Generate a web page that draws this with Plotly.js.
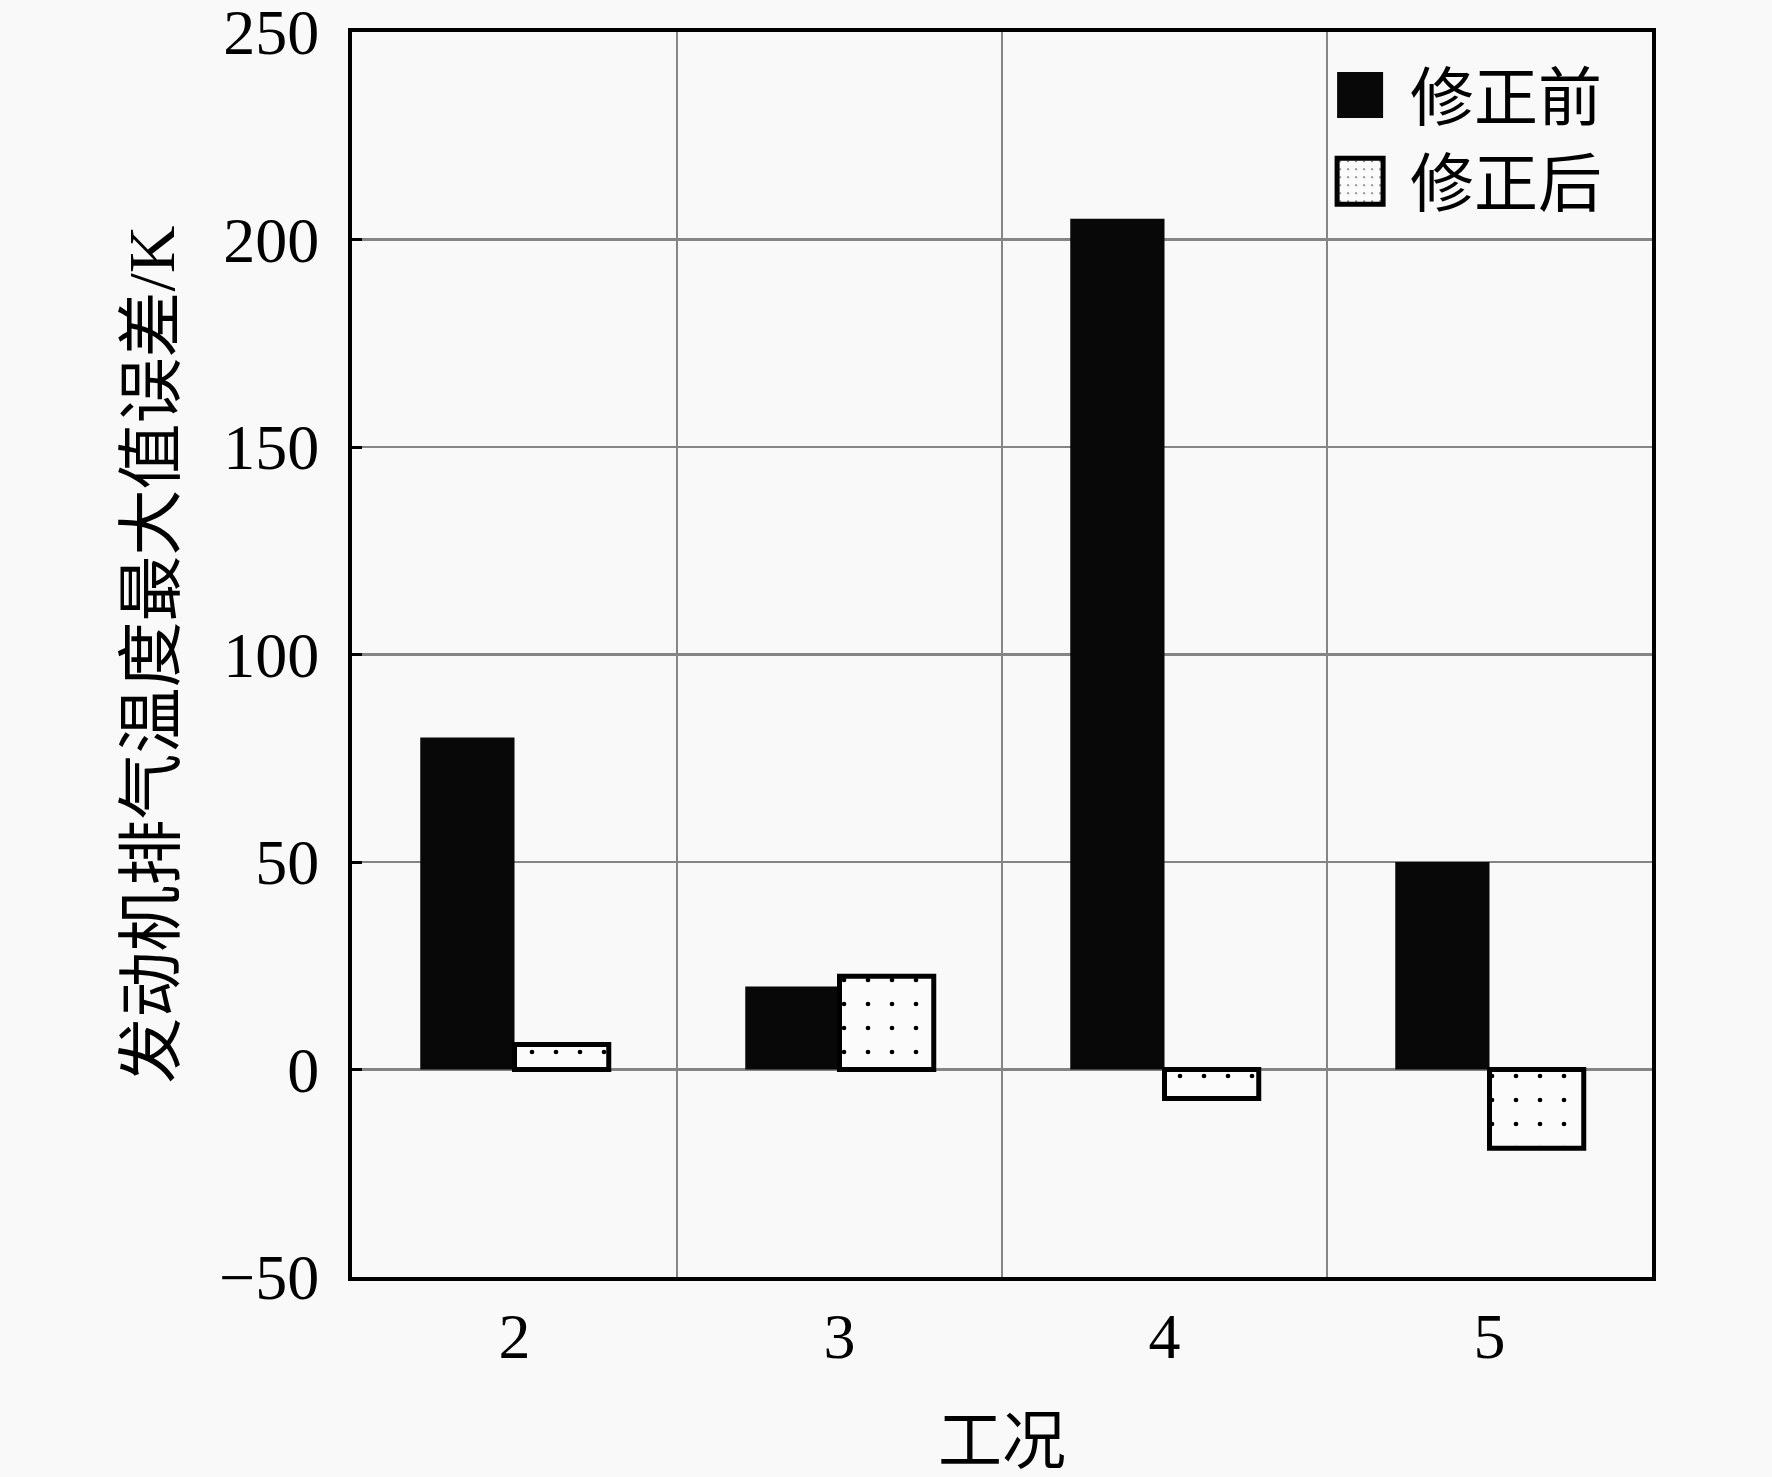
<!DOCTYPE html>
<html>
<head>
<meta charset="utf-8">
<script src="https://cdn.plot.ly/plotly-3.0.1.min.js"></script>
<style>
  body { margin: 0; background: #f9f9f9; }
  #divPlot { width: 1772px; height: 1477px; }
</style>
</head>
<body>
<div id="divPlot"></div>
<script>
// 工况 (operating cases) and max exhaust temperature error, K
var cases = [2, 3, 4, 5];
var beforeCorr = [80, 20, 205, 50];   // 修正前
var afterCorr = [6, 22.5, -7, -19];   // 修正后

var yTicks = [-50, 0, 50, 100, 150, 200, 250];

var serif = '"Liberation Serif", "Noto Sans CJK SC", serif';

var trace1 = {
  x : cases,
  y : beforeCorr,
  type : 'bar',
  name : '修正前',
  marker : {color : '#080808', line : {width : 0}},
  hoverinfo : 'skip'
};

var trace2 = {
  x : cases,
  y : afterCorr,
  type : 'bar',
  name : '修正后',
  marker : {
    color : '#fbfbfb',
    line : {color : '#000', width : 5},
    pattern : {shape : '.', fgcolor : '#000', bgcolor : '#fbfbfb',
               size : 24, solidity : 0.03, fillmode : 'replace'}
  },
  hoverinfo : 'skip'
};

var layout = {
  width : 1772,
  height : 1477,
  margin : {l : 352, r : 120, t : 32, b : 200},
  paper_bgcolor : '#f9f9f9',
  plot_bgcolor : '#f9f9f9',
  barmode : 'group',
  bargap : 0.42,
  bargroupgap : 0,
  font : {family : serif, size : 64, color : '#000'},
  showlegend : true,
  legend : {
    x : 0.737, y : 0.988, xanchor : 'left', yanchor : 'top',
    bgcolor : 'rgba(0,0,0,0)', borderwidth : 0,
    itemwidth : 90,
    font : {family : serif, size : 64}
  },
  xaxis : {
    range : [1.5, 5.5],
    tickmode : 'array',
    tickvals : cases,
    ticktext : cases.map(String),
    ticks : '',
    showgrid : false,
    zeroline : false,
    showline : true, mirror : true, linecolor : '#000', linewidth : 4,
    ticklabelstandoff : 0,
    minor : {tickmode : 'array', tickvals : [2.5, 3.5, 4.5], showgrid : true,
             gridcolor : '#858585', gridwidth : 2.5, ticks : ''},
    title : {text : '工况', standoff : 58, font : {family : serif, size : 64}}
  },
  yaxis : {
    range : [-50, 250],
    tickmode : 'array',
    tickvals : yTicks,
    ticktext : yTicks.map(function(v) { return v < 0 ? '\u2212' + (-v) : String(v); }),
    ticklabeloverflow : 'allow',
    ticks : 'inside', ticklen : 10, tickwidth : 3, tickcolor : '#000',
    showgrid : true, gridcolor : '#858585', gridwidth : 2.5,
    zeroline : false,
    showline : true, mirror : true, linecolor : '#000', linewidth : 4,
    ticklabelstandoff : 16,
    title : {text : '发动机排气温度最大值误差/K', standoff : 24,
             font : {family : serif, size : 66}}
  }
};

Plotly.newPlot('divPlot', [trace1, trace2], layout, {displayModeBar : false, staticPlot : true})
  .then(function(gd) {
    // enlarge the legend swatches to match the big text
    gd.querySelectorAll('.legend .legendpoints path').forEach(function(p, i) {
      p.setAttribute('d', 'M23,23H-23V-23H23Z');
      if (i > 0) p.style.strokeWidth = '5px';
    });
  });
</script>
</body>
</html>
